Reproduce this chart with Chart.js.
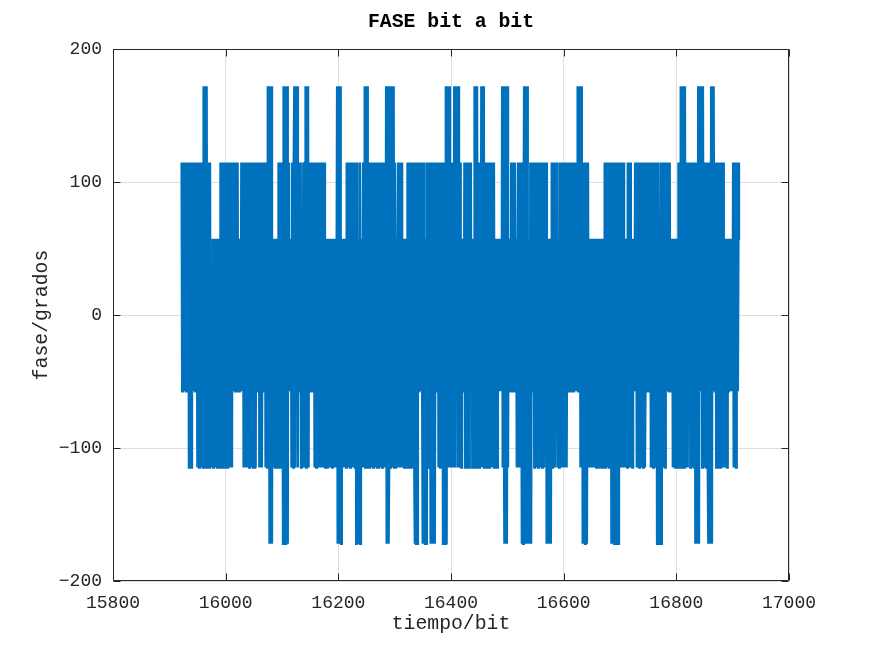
<!DOCTYPE html>
<html>
<head>
<meta charset="utf-8">
<title>FASE bit a bit</title>
<script src="https://cdn.jsdelivr.net/npm/chart.js@4.4.1/dist/chart.umd.min.js"></script>
<style>
  html, body { margin: 0; padding: 0; background: #fff; }
</style>
</head>
<body>
<canvas id="fase" width="872" height="654"></canvas>
<script>
// niveles de fase (multiplos de 1 rad, en grados)
const nivelesGrados = [-171.9, -114.6, -57.3, 0, 57.3, 114.6, 171.9];
const primerBit = 15922;

// nivel de cada bit, de -3 a 3 (aproximado)
const faseNivel = [
  2,-1,1,2,-1,0,2,1,-1,2,0,-1, 2,-2,1,-1,2,-2,0, 2,-1,0,2,1,-1,2,-1,1, -2,2,0,-2,1,2,-1,-2,2,0,-2,
  3,-1,3,-2,2,3,-1, 2,-2,1,-2,2, -2,0,-2,-1, 1,-2,0,1,-1,-2,1,0,-2,1,-1,-2,1,-2,
  2,-2,1,-1,2,-2,0,2,-2,1,-1,2, -2,1,-1, 2,-2,0,2,-1,-2, 2,0,-1,2,1,-1,2,-1,0,2,-1, 1,-1,0,1, -1,2,0,-1,2,
  -2,1,2,-1,-2,2,0,-2,1,2,-2,-1,2,0,-2,2, 0,-2,1,-2, 2,-2, 1,-1,2,0,-1, 2,-2,1,-1,2,-2,0, 2,-1,1,-1, 2,-2,0,2,-2,
  3,-1,3,-3,2,-3,3,-3,1, -2,1,-1,0,-2,1,-2,0,1, -2,2,-1,1,-2,2,0,-2,2, -3,3,-2,3,-3,2,-3,3,-3,
  2,-1, 1,-1,0,1, -2,2,-1,-2,2, 3,-2,3,0,-1,3,-2, 2,-1,1,-1, 2,-2,0,1,-2,2,-1,-2,2, 3,-2,3,-1,3,-2,2, -1,2,0,-1,1,2,-1,0,2,
  -2,1,2,-2,0,-1,2,-2,1,2,-1,-2,2,0,-2,1,-2,2,-1,
  -2,1,0,-2,1,-1,-2,1,0,-2,-1,1,-2,0,1,-2,1,-1,-2,1,0,
  3,-3,1,3,-3,3,-2,-3,0, 1,-2,0,1,-2,-1,1, -2,2,0,-2,1,2,-1,-2,2,1,-2,0,2,-2,-1,2,-2,1,
  -3,2,-3,1,-3,-2,2,-3,0, 1,-2,0, 2,-2,1, 3,-2,3,-1,3,0,-2,
  2,-2,1,-1,2,-2,0,2,-2,1,2,-1,-2,2,0,-2,1,-2,2,-1,0,-2,2,1,-2,-1,2,-2,0,2,-2,
  3,-3,2,3,-3,-2,3, -2,1, 3,-2,3,-1,3,-2,2, -2,1,-1,-2,1, 2,-2,0,2,-1,-2,2, -2,1,-1,0,-2,1,-2,0,1,
  -2,2,-1,1,-2,2,0,-2,2,1,-2,-1,2,-2, -3,2,-3,1,-3, 2,-1,0,2,1,-1,2,0,-1, -3,2,-3,0,-3,1,-3,
  2,-2,1,-1,2,-2,0, -3,2,-3,1,-3,-2,2,-3,0, 2,-1,1,-1, 2,-2,0,1,-2,2,-1,-2,2,
  -3,2,-3,1,-3, 3,-3,3,-2,3, -2,3, -2,1,-1,-2, 2,-2,1,-1, 3,-2,3,-1,2,3,-2,3,0, -2,2,-1,-2,1, -1,1,0,-1,
  2,-2,1,-1,2,-2,0,2,-2,1,-1, 2,-1, 1,-2,0,1,-2, 3,-1,3,-2,3,0,-2, 2,-2,1,2,-2, 3,-2,3,-1,3,-2,1,
  -2,2,0,-2,1,2,-1,-2,2,1,-2,0,2,-2,-1,2,-2,1,
  -2,1,-1,-2,0, 1,-1,0,1,-1,1,-1, 3,-2,3,-1, -3,3,-3,2,-3, 3,-2, 1,-1,0,1, -1,2,0,-1,2,1,-1,2,0, -1,1, -2,0,
  2,-2,1,-1,2,-2,0, -3,2,-3,1, 3,-3,3,-2,-3,3,-3, 1,-3,0,-3, 2,-3, 1,-1,2,-1,
  2,-2,0,2,-1,-2,1,2,-2,-1,2,0,-2,1,2,-2,-1,2,-2,0,1,
  -1,2, -3,1,-3,0,-2,-3,1,-3,0, 2,-2,1,-1,2,-2,0, 1,-1,
  2,-2,0,1,-2,2,-1,-2,2,0,-2,1,2,-1,-2,2,1,-2,0,
  2,-1,0,2,1,-1,2,-1,0,2,-1,1,2,-1,0,2,-1,1,
  3,-1,3,0, 3,-2,3,-1,2, -3,2,-3,1,-3,-2,2,-3,0, 2,-2,1,-2,
  1,-2,0,1,-1,-2,1,0,-2,1,-1,-2,0,1,-2,-1,1,-2,0,1,-2,-1,1,-2,0,-2,
  2,-2,1,-1,2,-2,0,2,-2,1,-2, 2,-3,1,-3,2,-2,-3,2,0,-3,2,-3,1,-3,2,-2,
  2,-2,0,2,-1,-2,2,1,-2, 1,-2,0,1,-2, 2,-2,1,-1,2,-2,0, 1,-2, 1,-1,0,-1, 2,-1,
  2,-2,0,2,-1,-2,1,2,-2,-1,2,0,-2,1,2,-2,-1,2,
  -1,2,0,-1,1,2,-1, 2,-2,1,-1,2,-2,0,2,-2,1,-1,2, -3,2,-3,1,-3,-2,2,-3,0,
  2,-2,1,-1,2,-2,0, 2,-1,0,2,1,-1,2,-1,0, 1,-1, 1,-2,0,1,-1,-2,1,0,-2,1,-2,
  2,-2,1,-1, 3,-2,3,-1,3,0,-2,3,-1, 2,-2,1,-2, 2,-1,0,2, -2,2,-1,1,-2,2,0,-2,2,
  -3,2,-3,1,-3, 3,-3, 3,-1,3,0,3, -2,3,-1,2, -2,2,0,-2,1,2,-2, -3,2,-3,1,-3, 3,-3, 3,-1,3,0,2, -1,2,
  -2,2,0,-2,1,2,-1,-2,2,1,-2,0,2,-2, 1,-2,0,1,-1,-2,1, -1,1,0,-1,1,-1,0,1,-1, 2,-2,1,-1,2,-2,0, 2,-1,1,2
];

const xTicks = [15800, 16000, 16200, 16400, 16600, 16800, 17000];
const yTicks = [-200, -100, 0, 100, 200];
const yTickLabels = ['\u2212200', '\u2212100', '0', '100', '200'];

const fuente = 'Liberation Mono, Courier New, monospace';
const colorEjes = '#262626';
const colorGrid = '#dfdfdf';

const puntos = faseNivel.map((k, i) => ({ x: primerBit + i, y: nivelesGrados[k + 3] }));

// caja y marcas hacia dentro, como en matlab
const marcoMatlab = {
  id: 'marcoMatlab',
  afterDraw(chart) {
    const { ctx, chartArea: a, scales: { x, y } } = chart;
    const L = Math.round(a.left) + 0.5, R = Math.round(a.right) - 0.5;
    const T = Math.round(a.top) + 0.5, B = Math.round(a.bottom) - 0.5;
    const tl = 7;
    ctx.save();
    ctx.strokeStyle = colorEjes;
    ctx.lineWidth = 1;
    ctx.beginPath();
    ctx.rect(L, T, R - L, B - T);
    xTicks.forEach(v => {
      const px = Math.round(x.getPixelForValue(v)) + 0.5;
      ctx.moveTo(px, B); ctx.lineTo(px, B - tl);
      ctx.moveTo(px, T); ctx.lineTo(px, T + tl);
    });
    yTicks.forEach(v => {
      const py = Math.round(y.getPixelForValue(v)) + 0.5;
      ctx.moveTo(L, py); ctx.lineTo(L + tl, py);
      ctx.moveTo(R, py); ctx.lineTo(R - tl, py);
    });
    ctx.stroke();
    ctx.restore();
  }
};

new Chart(document.getElementById('fase'), {
  type: 'line',
  data: {
    datasets: [{
      data: puntos,
      borderColor: '#0072bd',
      borderWidth: 2.6,
      pointRadius: 0,
      tension: 0,
      fill: false
    }]
  },
  options: {
    responsive: false,
    animation: false,
    devicePixelRatio: 1,
    parsing: false,
    normalized: true,
    events: [],
    layout: { padding: { left: 0, right: 83, top: 0, bottom: 0 } },
    plugins: {
      legend: { display: false },
      tooltip: { enabled: false },
      title: {
        display: true,
        fullSize: false,
        text: 'FASE bit a bit',
        color: '#000',
        font: { family: fuente, size: 19.8, weight: 'bold' },
        padding: { top: 10, bottom: 15.24 }
      }
    },
    scales: {
      x: {
        type: 'linear',
        min: 15800,
        max: 17000,
        afterBuildTicks: s => { s.ticks = xTicks.map(v => ({ value: v })); },
        afterFit: s => { s.height = 73; },
        border: { display: false },
        grid: { color: colorGrid, drawTicks: false },
        ticks: {
          color: colorEjes,
          font: { family: fuente, size: 18 },
          padding: 11,
          maxRotation: 0,
          autoSkip: false,
          callback: v => String(v)
        },
        title: {
          display: true,
          text: 'tiempo/bit',
          color: colorEjes,
          font: { family: fuente, size: 19.8 },
          padding: { top: 0, bottom: 18 }
        }
      },
      y: {
        type: 'linear',
        min: -200,
        max: 200,
        afterBuildTicks: s => { s.ticks = yTicks.map(v => ({ value: v })); },
        afterFit: s => { s.width = 113; },
        border: { display: false },
        grid: { color: colorGrid, drawTicks: false },
        ticks: {
          color: colorEjes,
          font: { family: fuente, size: 18 },
          padding: 11,
          callback: v => yTickLabels[yTicks.indexOf(v)]
        },
        title: {
          display: true,
          text: 'fase/grados',
          color: colorEjes,
          font: { family: fuente, size: 19.8 },
          padding: { top: 30, bottom: 0 }
        }
      }
    }
  },
  plugins: [marcoMatlab]
});
</script>
</body>
</html>
